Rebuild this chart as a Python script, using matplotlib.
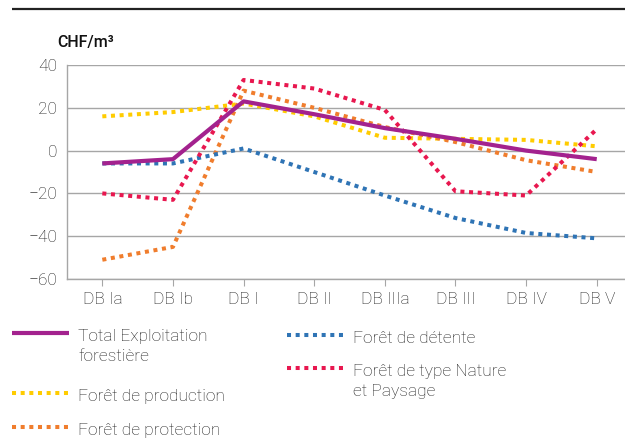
import matplotlib.pyplot as plt
from matplotlib.lines import Line2D

plt.rcParams["font.family"] = ["Roboto", "DejaVu Sans"]
plt.rcParams["font.weight"] = "light"

# data (CHF/m3)
categories = ["DB Ia", "DB Ib", "DB I", "DB II", "DB IIIa", "DB III", "DB IV", "DB V"]
total = [-6, -4, 23, 17, 10.5, 5.5, 0, -4]
production = [16, 18, 22, 16, 6, 5.5, 5, 2]
protection = [-51, -45, 28, 20, 11, 4, -4.5, -10]
detente = [-6, -6, 1, -10, -21, -31.5, -38.5, -41]
nature = [-20, -23, 33, 29, 19, -19, -21, 10]

labels = ["Total Exploitation\nforestière", "Forêt de production", "Forêt de protection",
          "Forêt de détente", "Forêt de type Nature\net Paysage"]
colors = ["#a3228e", "#ffcc00", "#f07d2d", "#2f74b5", "#e8174f"]
series = [total, production, protection, detente, nature]

txt = "#1e1e1e"
grid = "#a6a6a6"

fig = plt.figure(figsize=(6.25, 4.43), dpi=100)

# thin strip axes at the very top just to carry the black rule
top = fig.add_axes([0, 1 - 18 / 443, 1, 18 / 443])
top.set_xlim(0, 625)
top.set_ylim(18, 0)
top.axis("off")
top.plot([12, 625], [9, 9], color="#222222", lw=1.6, solid_capstyle="butt")

ax = fig.add_axes([0.1072, 0.3702, 0.8928, 0.4831])

x = list(range(len(categories)))
# dotted ones first so the solid total sits on top
for i in [1, 2, 3, 4]:
    ax.plot(x, series[i], color=colors[i], lw=2.9, linestyle=(0, (1, 1.15)),
            dash_capstyle="butt", solid_joinstyle="miter")
ax.plot(x, total, color=colors[0], lw=3.0, solid_capstyle="butt")

ax.set_xlim(-0.5, 7.4)
ax.set_ylim(-60, 40)
ax.set_yticks(range(-60, 41, 20))
ax.set_yticklabels(["\u221260", "\u221240", "\u221220", "0", "20", "40"])
ax.set_xticks(x)
ax.set_xticklabels(categories)
ax.yaxis.grid(True, color=grid, lw=1.0)
ax.set_axisbelow(True)
for s in ["top", "right"]:
    ax.spines[s].set_visible(False)
for s in ["left", "bottom"]:
    ax.spines[s].set_color(grid)
    ax.spines[s].set_linewidth(1.0)
ax.tick_params(axis="y", length=0, pad=7, labelsize=12.5, labelcolor=txt)
ax.tick_params(axis="x", length=5, color=grid, pad=4, labelsize=12.5, labelcolor=txt)

# unit label
fig.text(57 / 625, 1 - 42 / 443, "CHF/m\u00b3", fontsize=11.5, fontweight="medium",
         color="#111111", va="center", ha="left")

# legend drawn by hand to keep the two uneven columns
legend_pos = [(12, 333), (12, 393), (12, 427), (287, 335), (287, 368)]
for (lx, ly), lab, c, i in zip(legend_pos, labels, colors, range(5)):
    fy = 1 - ly / 443
    if i == 0:
        fig.add_artist(Line2D([lx / 625, (lx + 57) / 625], [fy, fy], color=c, lw=3.0,
                              solid_capstyle="butt"))
    else:
        fig.add_artist(Line2D([lx / 625, (lx + 57) / 625], [fy, fy], color=c, lw=2.9,
                              linestyle=(0, (1, 1.15))))
    fig.text((lx + 66) / 625, fy + 4 / 443, lab, fontsize=12.5, color=txt,
             va="top", ha="left", linespacing=1.45)

fig.savefig("out.png", dpi=100)
